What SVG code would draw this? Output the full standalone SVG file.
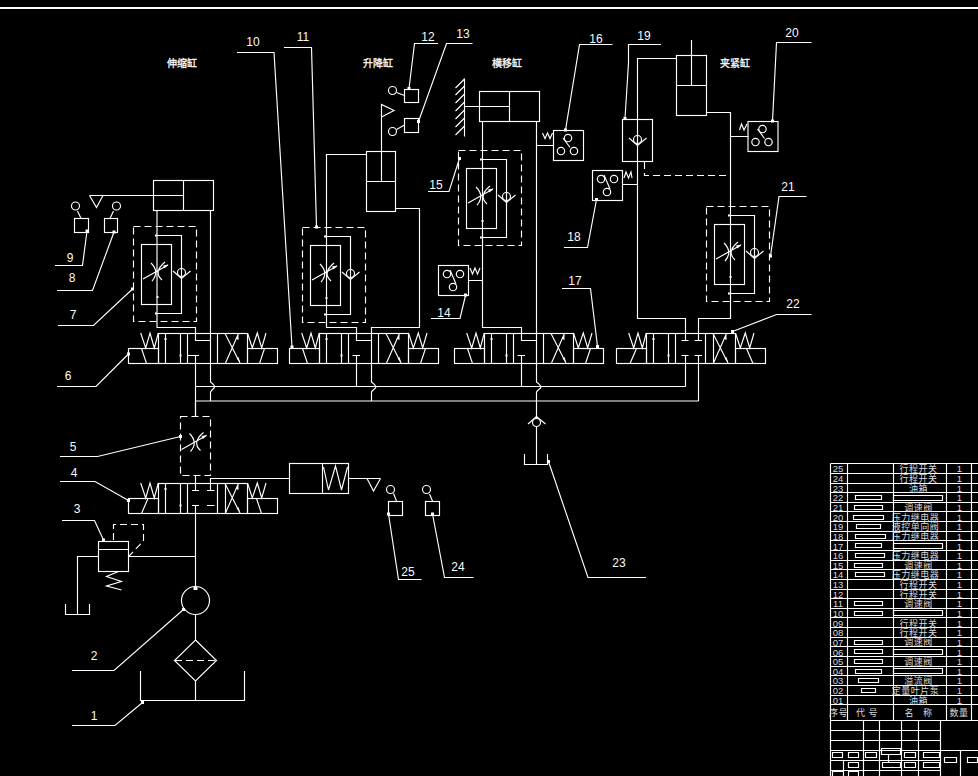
<svg xmlns="http://www.w3.org/2000/svg" xmlns:xlink="http://www.w3.org/1999/xlink" width="978" height="776" viewBox="0 0 978 776">
<style>
.l{fill:none;stroke:#fff;stroke-width:1.15}
.d{fill:none;stroke:#fff;stroke-width:1.15;stroke-dasharray:7 4}
.f{fill:#fff;stroke:none}
.n{fill:#fff;font-family:"Liberation Sans",Arial,sans-serif;font-size:12px;text-anchor:middle}
.h{fill:#fff;font-family:"Liberation Sans","Noto Sans CJK SC",sans-serif;font-size:10px;text-anchor:middle;stroke:#fff;stroke-width:.3}
.t{fill:#ddd;font-family:"Liberation Sans","Noto Sans CJK SC",sans-serif;font-size:9px;letter-spacing:.5px;text-anchor:middle}
.s{fill:#ddd;font-family:"Liberation Sans",Arial,sans-serif;font-size:9.5px;text-anchor:middle}
.g{opacity:.99}
</style>
<defs>
<g id="valve">
<rect class="l" x="128.5" y="348.5" width="30" height="15"/>
<rect class="l" x="158.5" y="333.5" width="89" height="30"/>
<rect class="l" x="247.5" y="348.5" width="30" height="15"/>
<path class="l" d="M140.7 333L145.7 348L150 333L154.3 348L158.3 333M247.5 333L252.3 348L257.3 333L261.7 348L266 333"/>
<path class="l" d="M165.5 333.5V363.5M180.5 333.5V363.5M187.5 333.5V363.5M217.5 333.5V363.5"/>
<path class="l" d="M225 333.5L240 363M238.5 333.5L225.5 363"/>
<path class="f" d="M238.5 335L238.500 340L235.500 338.500ZM240 362L236.500 358.500L238.500 357Z"/>
<path class="f" d="M179.500 354.500h2v2h-2zM164.500 338h2v2h-2z"/>
</g>
<g id="throttle">
<path class="l" d="M-6 -9Q3 0 -5 9M8 -10Q-4 0 5 8M-14 7L11 -7"/>
<path class="f" d="M11.500 -7.500L6 -6.500L7.500 -3.500Z"/>
</g>
<g id="check">
<circle class="l" cx="0" cy="0" r="4"/>
<path class="l" d="M-8.5 -1.5L0 6L9 -1.5"/>
</g>
<g id="flow">
<rect class="d" x="133.5" y="226.5" width="63" height="95"/>
<rect class="l" x="141.5" y="244.5" width="30" height="60"/>
<path class="l" d="M156 235.5H181.5V313.5H156"/>
<use xlink:href="#throttle" href="#throttle" x="157" y="272"/>
<use xlink:href="#check" href="#check" x="181.5" y="272.5"/>
<path class="f" d="M155 234.500h2v2h-2zM155 312.500h2v2h-2zM156.500 296h2v2h-2z"/>
</g>
<g id="gaugeA">
<rect class="l" x="0.5" y="0.5" width="30" height="30"/>
<circle class="l" cx="15" cy="8" r="3.7"/><circle class="l" cx="8" cy="21" r="3.7"/><circle class="l" cx="21" cy="21" r="3.7"/>
<path class="l" d="M10 8L17 17.500"/>
</g>
<g id="gaugeB">
<rect class="l" x="0.5" y="0.5" width="30" height="30"/>
<circle class="l" cx="9" cy="9" r="3.7"/><circle class="l" cx="22" cy="9" r="3.7"/><circle class="l" cx="15" cy="22" r="3.7"/>
<path class="l" d="M12 5L18 19"/>
</g>
</defs>
<rect width="978" height="776" fill="#000"/>
<path d="M0 8H978" stroke="#fff" stroke-width="2" fill="none"/>

<g id="titles" class="g">
<text class="h" x="182" y="67">伸缩缸</text>
<text class="h" x="378" y="67">升降缸</text>
<text class="h" x="507" y="67">横移缸</text>
<text class="h" x="735" y="67">夹紧缸</text>
</g>

<g id="connectors">
<path class="l" d="M195.5 401V416M195.500 475V490M195.500 505V587M195.500 614V640M195.500 681V700"/>
<path class="l" d="M210.500 490V478.500H289.500"/>
<path class="l" d="M192 490.500H199M207 490.500H214.500M192 505.500H199M207 505.500H214.500"/>
<path class="l" d="M129 556.500H195.500M98.500 556.500H77.500V614"/>
<path class="d" d="M113.500 540V524.500H143.500V541L129 556"/>
<path class="l" d="M157 211V327.500H195.500V340.500H210.500"/>
<path class="l" d="M210.500 211V382Q216 386 214 388Q211 391 210.500 392V401"/>
<path class="l" d="M188 355.500H199M195.500 355.500V416"/>
<path class="l" d="M195.500 386.500H685.500M195.500 401H698.500"/>
<path class="l" d="M366.500 154.500H326.500V327.500H356.500V340.500H371.500"/>
<path class="l" d="M395.500 208.500H419.500V327.500H371.500V382Q377 386 375.500 388Q372 391 371.500 392V401"/>
<path class="l" d="M352.500 355.500H360M356.500 355.500V386"/>
<path class="l" d="M482.500 122V327.500H521.500V340.500H536.500"/>
<path class="l" d="M536.500 122V382Q542 386 540.500 388Q537 391 536.500 392V419M536.500 427V464.500"/>
<path class="l" d="M517.500 355.500H525M521.500 355.500V386"/>
<path class="l" d="M536.500 145.500H553.500M468.500 280.500H482.500"/>
<path class="l" d="M676.500 58.500H637.500V318.500H685.500V340M681.500 340.500H688.500"/>
<path class="l" d="M706.500 112.500H730.500V318.500H698.500V340M694.500 340.500H702"/>
<path class="l" d="M681.500 355.500H688.500M694.500 355.500H702M685.500 355.500V386.500M698.500 355.500V401"/>
<path class="d" d="M644.500 162V175.500H730.500"/>
<path class="l" d="M623 184.500H637.500M730.500 136.500H748.500"/>
<path class="l" d="M87 231L82.500 265.500H55M114 232L92.500 290.500H57M132.500 289L93.500 325.500H58M128.500 354L96 386.500H57"/>
<path class="l" d="M237 52.500H274L292 347"/>
<path class="l" d="M284 47.500H311.500L316.500 227"/>
<path class="l" d="M409 88.500L414.500 43.500H438M418.500 121.500L446.500 43.500H472.500"/>
<path class="l" d="M459.500 158.500L449 191.500H428M465.500 295.500L460 318.500H431"/>
<path class="l" d="M565.500 130L579.500 44.500H612.500M596.500 199.500L587.500 247.500H564M597.500 346.500L590.500 288.500H562"/>
<path class="l" d="M625 118.500L628.500 63V44.500H661M772.500 121L776.500 42.500H811.500M770.500 256L779 196.500H806.500M732.500 331.500L776.500 314.500H811.500"/>
<path class="l" d="M180.500 436.500L97.500 456.500H60M128.500 500.500L95 481.500H60M103.500 540L94.500 520.500H62"/>
<path class="l" d="M183.500 609.500L114 670.500H72M142.500 702.500L115 725.500H72"/>
<path class="l" d="M548.500 461.500L588 577.500H646M388.500 514L398.500 579.500H421.500M432.500 514L444.500 577.500H473.500"/>
<path class="f" d="M85.500 229.500h3v3h-3zM112.500 230.500h3v3h-3zM131 287.500h3v3h-3zM127 352.500h3v3h-3zM290.500 345.500h3v3h-3zM315 225.500h3v3h-3zM407.500 87h3v3h-3zM417 120h3v3h-3zM458 157h3v3h-3zM464 293.500h3v3h-3zM564 128.500h3v3h-3zM595 198h3v3h-3zM596 345h3v3h-3zM623.500 117h3v3h-3zM771 119.500h3v3h-3zM769 254.500h3v3h-3zM731 330h3v3h-3zM179 435h3v3h-3zM127 499h3v3h-3zM102 538.500h3v3h-3zM182 608h3v3h-3zM141 701h3v3h-3zM547 460h3v3h-3zM387 512.500h3v3h-3zM431 512.500h3v3h-3z"/>
</g>

<g id="cyl-1"><rect class="l" x="153.500" y="180.500" width="60" height="30"/><path class="l" d="M183.500 180.500V210.500M89.500 195.500H183.500M89.500 195.500L96.500 207.500L103 195.500"/></g>
<g id="cyl-2"><rect class="l" x="366.500" y="151.500" width="29" height="60"/><path class="l" d="M366.500 181.500H395.500M381.500 181.500V104.500L394 110.500L381.500 117"/></g>
<g id="cyl-3"><rect class="l" x="479.500" y="91.500" width="60" height="30"/><path class="l" d="M509.500 91.500V121.500M464.500 106.500H509.500M464.500 78.500V136.500"/><path class="l" d="M464.500 86L455.500 95M464.500 94L455.500 103M464.500 102L455.500 111M464.500 110L455.500 119M464.500 118L455.500 127M464.500 126L455.500 135M464.500 79L455.500 88"/></g>
<g id="cyl-4"><rect class="l" x="676.500" y="55.500" width="30" height="60"/><path class="l" d="M676.500 85.500H706.500M691.500 85.500V40"/></g>
<g id="cyl-5"><rect class="l" x="289.500" y="463.500" width="59" height="30"/><path class="l" d="M322.500 463.500V493.500M323.500 467L328.500 490L335.500 466L341.500 490L347.500 467M348.500 478.500H380.500M367 478.500L373.500 491L380.500 478.500"/></g>

<g id="flow-7"><use xlink:href="#flow" href="#flow"/></g>
<g id="flow-10"><use xlink:href="#flow" href="#flow" x="169" y="1"/></g>
<g id="flow-15"><use xlink:href="#flow" href="#flow" x="325" y="-76"/></g>
<g id="flow-21"><use xlink:href="#flow" href="#flow" x="573" y="-20"/></g>
<g id="flow-5"><rect class="d" x="180.500" y="416.500" width="30" height="59"/><use xlink:href="#throttle" href="#throttle" x="195.500" y="442.500"/></g>

<g id="valve-6"><use xlink:href="#valve" href="#valve"/><path class="l" d="M141.500 348.500L146.500 363.500M264.500 348.500L259.500 363.500"/></g>
<g id="valve-10"><use xlink:href="#valve" href="#valve" x="161"/><path class="l" d="M302.500 348.500L307.500 363.500M425.500 348.500L420.500 363.500"/></g>
<g id="valve-17"><use xlink:href="#valve" href="#valve" x="326"/><path class="l" d="M467.500 348.500L472.500 363.500M590.500 348.500L585.500 363.500"/></g>
<g id="valve-22"><use xlink:href="#valve" href="#valve" x="488"/><path class="l" d="M636.500 348.500L630 363.500M746.500 348.500L753 363.500M713.500 333.500V363.500"/></g>
<g id="valve-4"><use xlink:href="#valve" href="#valve" y="150"/><path class="l" d="M148 498.500L141.500 513.500M256.500 498.500L261.500 513.500M225.500 483.500V513.500"/></g>

<g id="relief-3"><rect class="l" x="98.500" y="541.500" width="30" height="30"/><path class="l" d="M98.500 549.500H128.500M118.500 571.500L106.500 576.500L121.500 581.500L106.500 586L121.500 590"/><path class="l" d="M65.500 604V614.500H89.500V604"/></g>
<g id="pump-2"><circle class="l" cx="195.500" cy="600.500" r="14"/><path class="f" d="M193.500 587h4v3h-4z"/></g>
<g id="filter"><path class="l" d="M195.500 640L216.500 660.500L195.500 681L174.500 660.500Z"/><path class="d" d="M175 660.500H216"/></g>
<g id="tank-1"><path class="l" d="M140.500 671V700.500H244.500V671"/></g>
<g id="check-23"><use xlink:href="#check" href="#check" transform="translate(536.500 422.500) scale(1 -1)"/><path class="l" d="M524.500 454V464.500H547.500V454"/></g>
<g id="switch-9"><circle class="l" cx="75.500" cy="206" r="4"/><path class="l" d="M77.500 211L81 218.500"/><rect class="l" x="74.500" y="218.500" width="14" height="14"/></g>
<g id="switch-8"><circle class="l" cx="116.500" cy="206" r="4"/><path class="l" d="M113.500 211L110 218.500"/><rect class="l" x="104.500" y="218.500" width="13" height="14"/></g>
<g id="switch-12"><circle class="l" cx="392.500" cy="90.500" r="4"/><path class="l" d="M396.500 92.500L404.500 95.500"/><rect class="l" x="404.500" y="89.500" width="14" height="13"/></g>
<g id="switch-13"><circle class="l" cx="392.500" cy="131.500" r="4"/><path class="l" d="M396.500 129.500L404.500 125"/><rect class="l" x="404.500" y="118.500" width="14" height="14"/></g>
<g id="switch-25"><circle class="l" cx="390.500" cy="489.500" r="4"/><path class="l" d="M393.500 493.500L396.500 501"/><rect class="l" x="388.500" y="501.500" width="14" height="14"/></g>
<g id="switch-24"><circle class="l" cx="426.500" cy="489.500" r="4"/><path class="l" d="M429.500 494L432.500 501"/><rect class="l" x="425.500" y="501.500" width="14" height="14"/></g>

<g id="gauge-16"><use xlink:href="#gaugeA" href="#gaugeA" x="553" y="130"/><path class="l" d="M542.500 133L545 138.500L547.500 133L550 138.500L552.500 133"/></g>
<g id="gauge-14"><use xlink:href="#gaugeB" href="#gaugeB" x="438" y="265"/><path class="l" d="M470 268L472.500 274L475 268L477.500 274L480 268"/></g>
<g id="gauge-18"><use xlink:href="#gaugeB" href="#gaugeB" x="592" y="170"/><path class="l" d="M624 178L626 172L628.500 178L631 172L632 178"/></g>
<g id="gauge-20"><use xlink:href="#gaugeA" href="#gaugeA" x="747.500" y="121"/><path class="l" d="M739.500 130L741.500 124L744 130L747 124"/></g>
<g id="pilot-19"><rect class="l" x="622.500" y="119.500" width="30" height="42"/><use xlink:href="#check" href="#check" x="637.500" y="139.500"/></g>

<g id="numbers" class="g">
<text class="n" x="70" y="262">9</text><text class="n" x="72" y="282">8</text><text class="n" x="73" y="319">7</text><text class="n" x="68" y="380">6</text>
<text class="n" x="73" y="451">5</text><text class="n" x="74" y="477">4</text><text class="n" x="77" y="513">3</text><text class="n" x="94" y="660">2</text><text class="n" x="94" y="720">1</text>
<text class="n" x="253" y="46">10</text><text class="n" x="303" y="41">11</text><text class="n" x="428" y="41">12</text><text class="n" x="463" y="38">13</text>
<text class="n" x="444" y="317">14</text><text class="n" x="436" y="189">15</text><text class="n" x="596" y="43">16</text><text class="n" x="575" y="285">17</text><text class="n" x="574" y="241">18</text>
<text class="n" x="644" y="40">19</text><text class="n" x="792" y="37">20</text><text class="n" x="788" y="191">21</text><text class="n" x="793" y="308">22</text><text class="n" x="619" y="567">23</text><text class="n" x="458" y="571">24</text><text class="n" x="408" y="576">25</text>
</g>

<g id="title-block">
<path class="l" d="M830.500 463.500H978M830.500 473.500H978M830.500 483.500H978M830.500 492.500H978M830.500 502.500H978M830.500 511.500H978M830.500 521.500H978M830.500 531.500H978M830.500 540.500H978M830.500 550.500H978M830.500 560.500H978M830.500 569.500H978M830.500 579.500H978M830.500 589.500H978M830.500 598.500H978M830.500 608.500H978M830.500 617.500H978M830.500 627.500H978M830.500 637.500H978M830.500 646.500H978M830.500 656.500H978M830.500 666.500H978M830.500 675.500H978M830.500 685.500H978M830.500 695.500H978M830.500 704.500H978M830.500 720.500H978"/>
<path class="l" d="M830.500 463.500V776M847.500 463.500V720.500M893.500 463.500V720.500M946.500 463.500V720.500M971.500 463.500V720.500"/>
<path class="l" d="M830.500 730.500H940.500M830.500 740.500H940.500M830.500 750.500H978M830.500 760.500H940.500M830.500 770.500H940.500M863.500 720.500V776M879.500 720.500V776M901.500 720.500V776M918.500 720.500V776M940.500 720.500V776M960.500 750.500V776"/>
<path class="l" d="M832.500 752.500h10v5h-10zM848.500 752.500h10v5h-10zM865.500 752.500h11v5h-11zM881.500 748.500h19v6h-19zM904.500 752.500h11v5h-11zM923.500 752.500h16v5h-16zM848.500 762.500h10v5h-10zM882.500 762.500h18v5h-18zM904.500 762.500h11v5h-11zM923.500 762.500h16v5h-16zM832.500 771.500h11v5h-11zM848.500 771.500h10v5h-10zM944.500 757.500h12v5h-12zM967.500 757.500h10v5h-10zM888.500 755V762M843.500 760.500V771"/>
<path class="l" d="M855.500 495.500h26v4h-26zM854.500 505.500h28v4h-28zM853.500 515.500h30v4h-30zM856.500 524.500h24v4h-24zM855.500 534.500h30v4h-30zM855.500 543.500h26v4h-26zM855.500 553.500h29v4h-29zM854.500 563.500h28v4h-28zM855.500 572.500h29v4h-29zM854.500 601.500h28v4h-28zM854.500 611.500h28v4h-28zM854.500 640.500h28v4h-28zM854.500 649.500h28v4h-28zM854.500 659.500h28v4h-28zM855.500 669.500h26v4h-26zM858.500 678.500h20v4h-20zM861.500 688.500h14v4h-14z"/>
<path class="l" d="M893.500 495.500h49v5h-49zM893.500 543.500h49v5h-49zM893.500 610.500h49v5h-49zM893.500 649.500h49v5h-49zM893.500 668.500h49v5h-49z"/>
<g class="s g">
<text x="838" y="472">25</text><text x="838" y="482">24</text><text x="838" y="491.500">23</text><text x="838" y="501">22</text><text x="838" y="511">21</text><text x="838" y="520.500">20</text><text x="838" y="530">19</text><text x="838" y="539.500">18</text><text x="838" y="549.500">17</text><text x="838" y="559">16</text><text x="838" y="568.500">15</text><text x="838" y="578">14</text><text x="838" y="588">13</text><text x="838" y="597.500">12</text><text x="838" y="607">11</text><text x="838" y="617">10</text><text x="838" y="626.500">09</text><text x="838" y="636">08</text><text x="838" y="646">07</text><text x="838" y="655.500">06</text><text x="838" y="665">05</text><text x="838" y="675">04</text><text x="838" y="684">03</text><text x="838" y="694">02</text><text x="838" y="703.500">01</text>
</g>
<g class="t g">
<text x="918.500" y="472">行程开关</text><text x="918.500" y="482">行程开关</text><text x="918.500" y="491.500">油箱</text><text x="918.500" y="511">调速阀</text><text x="915.500" y="520.500">压力继电器</text><text x="915.500" y="530">液控单向阀</text><text x="915.500" y="539.500">压力继电器</text><text x="915.500" y="559">压力继电器</text><text x="918.500" y="568.500">调速阀</text><text x="915.500" y="578">压力继电器</text><text x="918.500" y="588">行程开关</text><text x="918.500" y="597.500">行程开关</text><text x="918.500" y="607">调速阀</text><text x="918.500" y="626.500">行程开关</text><text x="918.500" y="636">行程开关</text><text x="918.500" y="645">调速阀</text><text x="918.500" y="665">调速阀</text><text x="918.500" y="684">溢流阀</text><text x="915.500" y="694">定量叶片泵</text><text x="918.500" y="703.500">油箱</text>
<text x="838.500" y="716">序号</text><text x="867" y="716" xml:space="preserve">代 号</text><text x="918.500" y="716" xml:space="preserve">名   称</text><text x="959" y="716">数量</text>
</g>
<g class="s g">
<text x="959.500" y="472">1</text><text x="959.500" y="482">1</text><text x="959.500" y="491.500">1</text><text x="959.500" y="501">1</text><text x="959.500" y="511">1</text><text x="959.500" y="520.500">1</text><text x="959.500" y="530">1</text><text x="959.500" y="539.500">1</text><text x="959.500" y="549.500">1</text><text x="959.500" y="559">1</text><text x="959.500" y="568.500">1</text><text x="959.500" y="578">1</text><text x="959.500" y="588">1</text><text x="959.500" y="597.500">1</text><text x="959.500" y="607">1</text><text x="959.500" y="617">1</text><text x="959.500" y="626.500">1</text><text x="959.500" y="636">1</text><text x="959.500" y="646">1</text><text x="959.500" y="655.500">1</text><text x="959.500" y="665">1</text><text x="959.500" y="675">1</text><text x="959.500" y="684">1</text><text x="959.500" y="694">1</text><text x="959.500" y="703.500">1</text>
</g>
</g>
</svg>
